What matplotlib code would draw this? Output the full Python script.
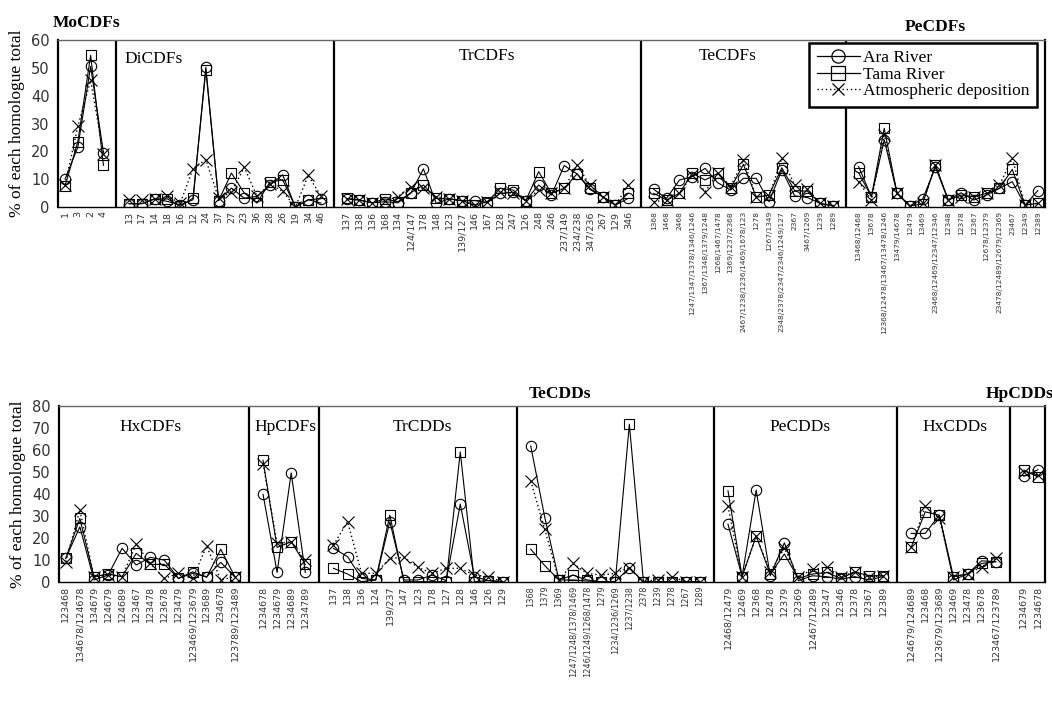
import matplotlib
matplotlib.use('Agg')
import matplotlib.pyplot as plt
from matplotlib.lines import Line2D

# ---------------- top panel data (CDFs) ----------------
mo_labels = ['1', '3', '2', '4']
mo_ara = [10, 21.5, 50.5, 19.5]
mo_tama = [7.5, 23.5, 54.5, 15]
mo_atm = [8, 29, 45.5, 19]

di_labels = ['13', '17', '14', '18', '16', '12', '24', '37', '27', '23', '36', '28', '26', '19', '34', '46']
di_ara = [1.2, 1.2, 2.9, 2.0, 0.8, 2.6, 50.2, 2.3, 6.8, 3.2, 3.8, 7.8, 11.6, 0, 2.6, 3.0]
di_tama = [1.2, 1.2, 2.9, 2.9, 0.2, 3.2, 49.3, 2.3, 12.2, 5.0, 1.4, 8.9, 9.8, 0, 2.6, 1.4]
di_atm = [2.6, 2.6, 2.9, 3.8, 1.4, 13.8, 17, 3.2, 5.3, 14.3, 3.8, 8.3, 5.6, 0, 11.4, 3.8]

tr_labels = ['137', '138', '136', '168', '134', '124/147', '178', '148', '123', '139/127', '146', '167',
             '128', '247', '126', '248', '246', '237/149', '234/238', '347/236', '267', '129', '346']
tr_ara = [2.9, 2.5, 1.5, 1.9, 1.5, 4.9, 13.7, 1.3, 2.9, 2.3, 2.3, 1.6, 4.9, 5.3, 2.3, 7.9, 4.3, 14.9, 11.9, 6.3, 3.7, 0.7, 3.1]
tr_tama = [3.1, 2.5, 1.5, 2.9, 1.9, 5.1, 7.9, 3.1, 2.9, 2.3, 0.7, 1.9, 6.7, 6.1, 2.3, 12.7, 4.9, 6.7, 11.9, 6.7, 3.7, 0.7, 4.9]
tr_atm = [2.9, 2.5, 1.5, 2.3, 3.7, 7.3, 6.7, 3.7, 2.9, 2.3, 0.7, 1.9, 5.5, 4.9, 2.3, 6.1, 5.1, 6.7, 15.1, 7.9, 3.7, 0.7, 7.9]

te_labels = ['1368', '1468', '2468', '1247/1347/1378/1346/1246', '1367/1348/1379/1248', '1268/1467/1478',
             '1369/1237/2368', '2467/1238/1236/1469/1678/123', '1278', '1267/1349',
             '2348/2378/2347/2346/1249/127', '2367', '3467/1269', '1239', '1289']
te_ara = [6.3, 3.1, 9.7, 10.9, 13.9, 8.7, 6.1, 10.3, 10.3, 1.9, 13.3, 4.0, 3.4, 1.3, 0.4]
te_tama = [4.9, 2.5, 4.9, 12.1, 9.7, 12.1, 6.7, 15.3, 3.5, 4.3, 14.1, 5.9, 5.7, 1.3, 0.4]
te_atm = [1.9, 2.5, 4.9, 11.5, 5.5, 12.1, 7.3, 16.9, 3.7, 4.0, 17.5, 7.9, 6.3, 1.3, 0.4]

pe_labels = ['13468/12468', '13678', '12368/12478/13467/13478/1246', '13479/14678', '12479', '13469',
             '23468/12469/12347/12346', '12348', '12378', '12367', '12678/12379',
             '23478/12489/12679/12369', '23467', '12349', '12389']
pe_ara = [14.5, 3.7, 24.1, 4.9, 0.4, 2.8, 14.3, 2.5, 5.1, 2.5, 4.3, 6.7, 9.1, 0.7, 5.9]
pe_tama = [12.3, 3.7, 28.3, 4.9, 0.4, 1.1, 15.1, 2.5, 4.3, 3.7, 4.9, 6.7, 13.5, 0.7, 1.3]
pe_atm = [9.1, 2.5, 25.9, 4.9, 0.4, 1.3, 15.1, 2.5, 3.7, 3.7, 4.9, 7.9, 17.5, 0.7, 1.3]

# ---------------- bottom panel data ----------------
hxf_labels = ['123468', '134678/124678', '134679', '124679', '124689', '123467', '123478', '123678',
              '123479', '123469/123679', '123689', '234678', '123789/123489']
hxf_ara = [10.6, 25, 0.8, 3.0, 15.2, 7.6, 11.1, 9.8, 1.5, 3.8, 2.3, 8.8, 2.3]
hxf_tama = [10.6, 28.8, 2.3, 3.5, 2.3, 12.9, 7.9, 7.9, 1.5, 4.5, 2.0, 14.8, 2.3]
hxf_atm = [9.1, 32.6, 2.3, 3.0, 2.3, 17.1, 8.3, 1.5, 3.8, 1.5, 16.2, 0.8, 2.3]

hpf_labels = ['1234678', '1234679', '1234689', '1234789']
hpf_ara = [39.8, 4.2, 49.5, 4.2]
hpf_tama = [55.3, 15.6, 18.2, 7.9]
hpf_atm = [53.8, 17.4, 18.2, 9.8]

trd_labels = ['137', '138', '136', '124', '139/237', '147', '123', '178', '127', '128', '146', '126', '129']
trd_ara = [15.2, 11.4, 1.5, 0.8, 27.3, 0.8, 0.8, 3.0, 0.5, 35.3, 2.3, 0.5, 0]
trd_tama = [6.1, 3.5, 0, 0.8, 30.3, 0, 0, 0, 0, 59.1, 0, 0.5, 0]
trd_atm = [16.7, 27.3, 3.8, 3.8, 10.6, 11.1, 6.5, 3.8, 6.1, 6.1, 3.0, 2.3, 0]

ted_labels = ['1368', '1379', '1369', '1247/1248/1378/1469', '1246/1249/1268/1478', '1279',
              '1234/1236/1269', '1237/1238', '2378', '1239', '1278', '1267', '1289']
ted_ara = [61.8, 29.2, 0.8, 0.8, 0.3, 0, 0, 6.4, 0, 0, 0, 0, 0]
ted_tama = [14.8, 7.3, 0.8, 3.0, 0.8, 0, 0, 71.7, 0, 0, 0, 0, 0]
ted_atm = [45.9, 23.8, 0.8, 8.3, 3.8, 3.0, 3.8, 6.4, 0, 1, 2.3, 0, 0]

ped_labels = ['12468/12479', '12469', '12368', '12478', '12379', '12369', '12467/12489', '12347',
              '12346', '12378', '12367', '12389']
ped_ara = [26.2, 2.3, 41.7, 2.7, 17.7, 0.5, 2.7, 2.3, 1.1, 2.3, 0.8, 2.3]
ped_tama = [41.4, 2.3, 20.8, 3.5, 12.6, 1.5, 3.5, 4.2, 1.5, 4.5, 2.7, 2.7]
ped_atm = [34.4, 2.3, 20.8, 4.5, 15.2, 2.3, 5.6, 6.5, 2.3, 4.5, 2.3, 2.7]

hxd_labels = ['124679/124689', '123468', '123679/123689', '123469', '123478', '123678', '123467/123789']
hxd_ara = [22, 22, 30.3, 0.8, 3.5, 9.5, 9.1]
hxd_tama = [15.6, 31.8, 30.3, 2.3, 3.5, 8.3, 9.1]
hxd_atm = [15.6, 34.4, 28.8, 2.3, 3.5, 6.8, 10.6]

hpd_labels = ['1234679', '1234678']
hpd_ara = [48, 51]
hpd_tama = [50.8, 47.7]
hpd_atm = [50, 48.5]

series_names = ['Ara River', 'Tama River', 'Atmospheric deposition']

# group: (title, labels, ara, tama, atm, title_x(index), title_y(axes frac), bold, tick font size)
top_groups = [
    ('MoCDFs', mo_labels, mo_ara, mo_tama, mo_atm, 1.7, 1.10, True, 6.8),
    ('DiCDFs', di_labels, di_ara, di_tama, di_atm, 6.9, 0.885, False, 6.8),
    ('TrCDFs', tr_labels, tr_ara, tr_tama, tr_atm, 33.0, 0.905, False, 6.8),
    ('TeCDFs', te_labels, te_ara, te_tama, te_atm, 51.8, 0.905, False, 5.4),
    ('PeCDFs', pe_labels, pe_ara, pe_tama, pe_atm, 68.0, 1.08, True, 5.4),
]
bottom_groups = [
    ('HxCDFs', hxf_labels, hxf_ara, hxf_tama, hxf_atm, 6.0, 0.88, False, 6.8),
    ('HpCDFs', hpf_labels, hpf_ara, hpf_tama, hpf_atm, 15.6, 0.88, False, 6.8),
    ('TrCDDs', trd_labels, trd_ara, trd_tama, trd_atm, 25.3, 0.88, False, 6.8),
    ('TeCDDs', ted_labels, ted_ara, ted_tama, ted_atm, 35.1, 1.07, True, 5.9),
    ('PeCDDs', ped_labels, ped_ara, ped_tama, ped_atm, 52.1, 0.88, False, 6.8),
    ('HxCDDs', hxd_labels, hxd_ara, hxd_tama, hxd_atm, 63.1, 0.88, False, 6.8),
    ('HpCDDs', hpd_labels, hpd_ara, hpd_tama, hpd_atm, 67.7, 1.07, True, 6.8),
]

SERIF = 'Liberation Serif'
TICK_COLOR = '#333333'

fig = plt.figure(figsize=(10.52, 7.13), dpi=100)
W, H = 1052, 713
ax1 = fig.add_axes([58 / W, 1 - 207 / H, (1045 - 58) / W, (207 - 40) / H])
ax2 = fig.add_axes([59 / W, 1 - 581.7 / H, (1045 - 59) / W, (581.7 - 406) / H])


def draw_panel(ax, groups, xlim, ymax):
    pos = 0
    ticks, labels, sizes = [], [], []
    seps = []
    for (title, labs, ara, tama, atm, tx, ty, bold, fs) in groups:
        n = len(labs)
        xs = list(range(pos, pos + n))
        ax.plot(xs, ara, color='black', lw=0.8, marker='o', ms=7.5, mfc='none', mec='black', mew=0.8, zorder=3)
        ax.plot(xs, tama, color='black', lw=0.8, marker='s', ms=7.5, mfc='none', mec='black', mew=0.8, zorder=3)
        ax.plot(xs, atm, color='black', lw=1.0, ls=(0, (1, 2)), marker='x', ms=8.5, mec='black', mew=0.8, zorder=3)
        ticks += xs
        labels += labs
        sizes += [fs] * n
        ax.text(tx, ty, title, transform=ax.get_xaxis_transform(), ha='center', va='center',
                family=SERIF, fontsize=12.5, fontweight='bold' if bold else 'normal', clip_on=False)
        pos += n + 1
        seps.append(pos - 1)
    for s in seps[:-1]:
        ax.axvline(s, color='black', lw=1.6, zorder=2)
    ax.set_xlim(*xlim)
    ax.set_ylim(0, ymax)
    ax.set_yticks(range(0, ymax + 1, 10))
    ax.set_xticks(ticks)
    ax.set_xticklabels(labels, rotation=90, color=TICK_COLOR, family='DejaVu Sans')
    for lab, fs in zip(ax.get_xticklabels(), sizes):
        lab.set_fontsize(fs)
    ax.tick_params(axis='both', length=0)
    ax.tick_params(axis='y', labelsize=10.5, labelcolor=TICK_COLOR, pad=6)
    ax.tick_params(axis='x', pad=3)
    ax.spines['left'].set_linewidth(1.6)
    ax.spines['right'].set_linewidth(1.6)
    ax.spines['bottom'].set_linewidth(1.0)
    ax.spines['top'].set_linewidth(1.0)
    ax.spines['top'].set_color('#666666')
    ax.set_ylabel('% of each homologue total', family=SERIF, fontsize=12.5, labelpad=4)


draw_panel(ax1, top_groups, (-0.55, 76.56), 60)
draw_panel(ax2, bottom_groups, (-0.48, 69.5), 80)

handles = [
    Line2D([], [], color='black', lw=0.9, marker='o', ms=9.5, mfc='none', mew=0.9),
    Line2D([], [], color='black', lw=0.9, marker='s', ms=9.5, mfc='none', mew=0.9),
    Line2D([], [], color='black', lw=1.0, ls=(0, (1, 2)), marker='x', ms=8, mew=0.9),
]
leg = ax1.legend(handles, series_names, loc='upper right', bbox_to_anchor=(0.992, 0.985),
                 prop={'family': SERIF, 'size': 12.5}, frameon=True, fancybox=False,
                 handlelength=2.5, handletextpad=0.15, labelspacing=0.02, borderpad=0.45,
                 borderaxespad=0)
leg.get_frame().set_edgecolor('black')
leg.get_frame().set_linewidth(1.8)
leg.get_frame().set_alpha(1)
leg.set_zorder(10)

fig.savefig('out.png', dpi=100)
